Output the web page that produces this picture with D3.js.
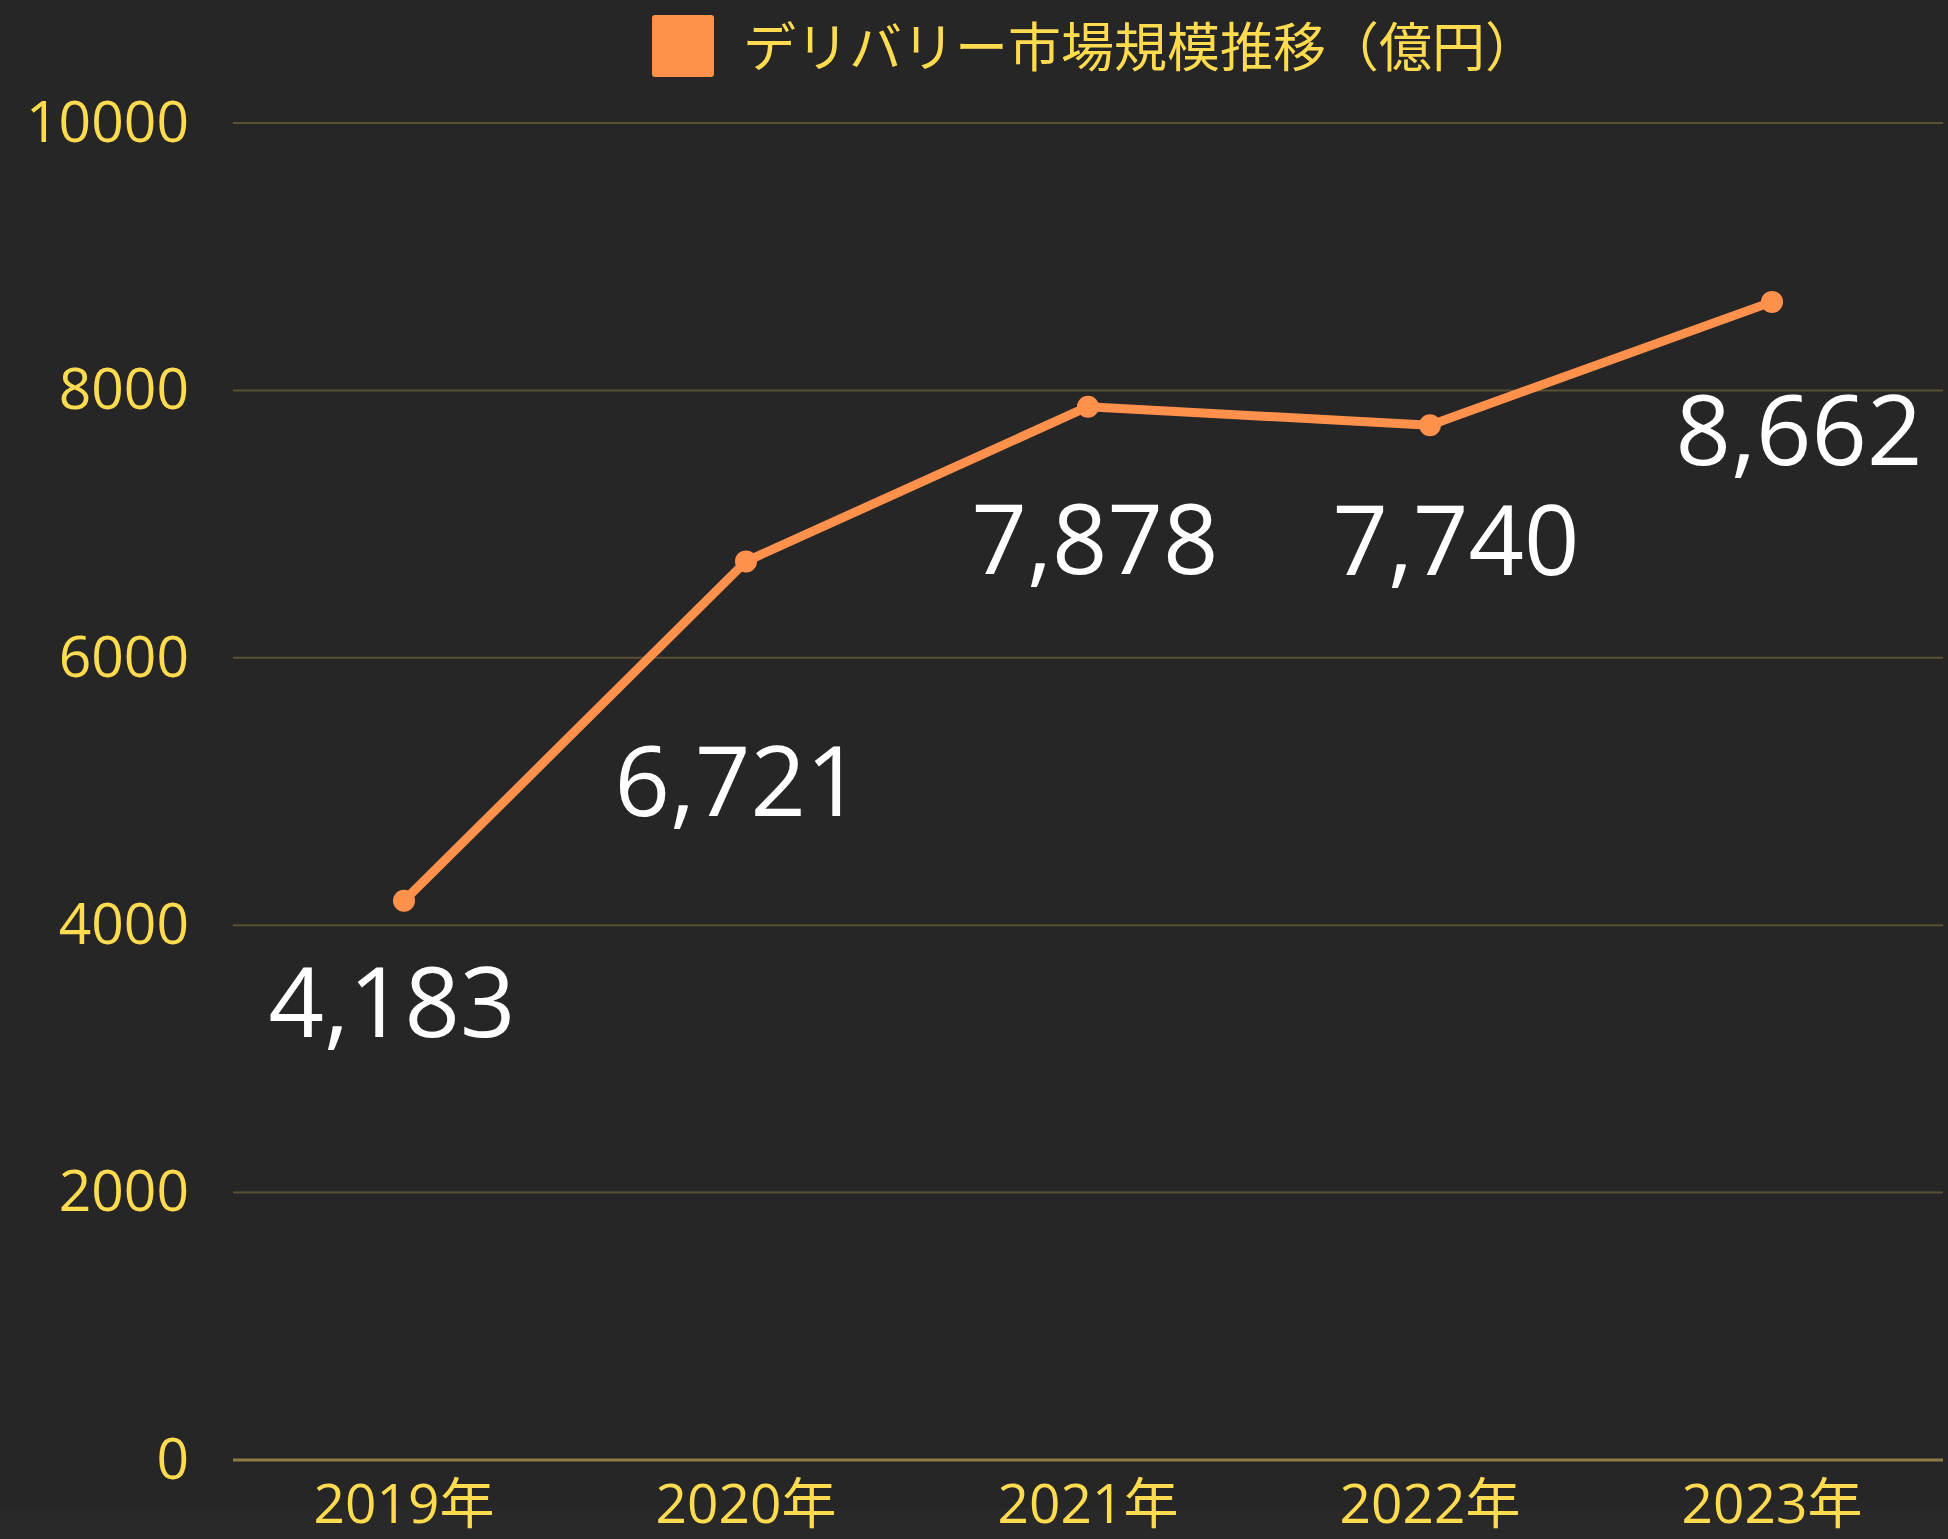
<!DOCTYPE html>
<html>
<head>
<meta charset="utf-8">
<script src="https://cdn.jsdelivr.net/npm/d3@7"></script>
<style>
  html, body { margin: 0; padding: 0; background: #262626; }
  svg { display: block; }
</style>
</head>
<body>
<div id="chart"></div>
<script>
// データ
const years = ["2019年", "2020年", "2021年", "2022年", "2023年"];
const marketValues = [4183, 6721, 7878, 7740, 8662];
const yTicks = [0, 2000, 4000, 6000, 8000, 10000];
const seriesName = "デリバリー市場規模推移（億円）";

// ラベルの位置調整 (px)
const labelDx = [-12, -8, 7, 26, 27];
const labelDy = [98, 217, 129, 112, 125];

const W = 1948, H = 1539;
const margin = { top: 123, right: 5, bottom: 79, left: 233 };
const width = W - margin.left - margin.right;
const height = H - margin.top - margin.bottom;

const fontMain = "'Open Sans', 'Noto Sans CJK JP', sans-serif";
const yellow = "#ffdb4f";
const orange = "#ff914d";

const root = d3.select("#chart")
    .append("svg")
    .attr("width", W)
    .attr("height", H);

root.append("rect")
    .attr("width", W).attr("height", H)
    .attr("fill", "#262626");

// 下部の帯
root.append("rect")
    .attr("x", 0).attr("y", 1508)
    .attr("width", W).attr("height", H - 1508)
    .attr("fill", "#292929");

const svg = root.append("g")
    .attr("transform", `translate(${margin.left},${margin.top})`);

const x = d3.scaleBand()
    .domain(years)
    .range([0, width]);

const y = d3.scaleLinear()
    .domain([0, 10000])
    .range([height, 0]);

// グリッド
svg.append("g")
    .selectAll("line")
    .data(yTicks)
    .enter().append("line")
    .attr("x1", 0)
    .attr("x2", width)
    .attr("y1", d => y(d))
    .attr("y2", d => y(d))
    .attr("stroke", d => d === 0 ? "#8d7c45" : "#5a5133")
    .attr("stroke-width", d => d === 0 ? 3 : 2);

// Y軸
const yAxis = svg.append("g")
    .call(d3.axisLeft(y).tickValues(yTicks).tickFormat(d3.format("d")).tickSize(0).tickPadding(44));
yAxis.select(".domain").remove();
yAxis.selectAll("text")
    .attr("fill", yellow)
    .style("font-family", fontMain)
    .style("font-size", "57px");

// X軸
const xAxis = svg.append("g")
    .attr("transform", `translate(0,${height})`)
    .call(d3.axisBottom(x).tickSize(0).tickPadding(24));
xAxis.select(".domain").remove();
xAxis.selectAll("text")
    .attr("fill", yellow)
    .style("font-family", fontMain)
    .style("font-size", "55px");

// 折れ線
const pts = years.map((yr, i) => ({ yr, v: marketValues[i], i }));
const cx = d => x(d.yr) + x.bandwidth() / 2;

svg.append("path")
    .datum(pts)
    .attr("fill", "none")
    .attr("stroke", orange)
    .attr("stroke-width", 9)
    .attr("stroke-linejoin", "round")
    .attr("d", d3.line().x(cx).y(d => y(d.v)));

svg.selectAll(".dot")
    .data(pts)
    .enter().append("circle")
    .attr("class", "dot")
    .attr("cx", cx)
    .attr("cy", d => y(d.v))
    .attr("r", 11)
    .attr("fill", orange);

// 値ラベル
svg.selectAll(".val")
    .data(pts)
    .enter().append("text")
    .attr("class", "val")
    .attr("x", d => cx(d) + labelDx[d.i])
    .attr("y", d => y(d.v) + labelDy[d.i])
    .attr("text-anchor", "middle")
    .attr("dominant-baseline", "central")
    .attr("fill", "#ffffff")
    .style("font-family", fontMain)
    .style("font-size", "97px")
    .text(d => d3.format(",")(d.v));

// 凡例
root.append("rect")
    .attr("x", 652).attr("y", 15)
    .attr("width", 62).attr("height", 62)
    .attr("rx", 3)
    .attr("fill", orange);

root.append("text")
    .attr("x", 743)
    .attr("y", 46)
    .attr("dominant-baseline", "central")
    .attr("fill", yellow)
    .style("font-family", fontMain)
    .style("font-size", "53px")
    .text(seriesName);
</script>
</body>
</html>
